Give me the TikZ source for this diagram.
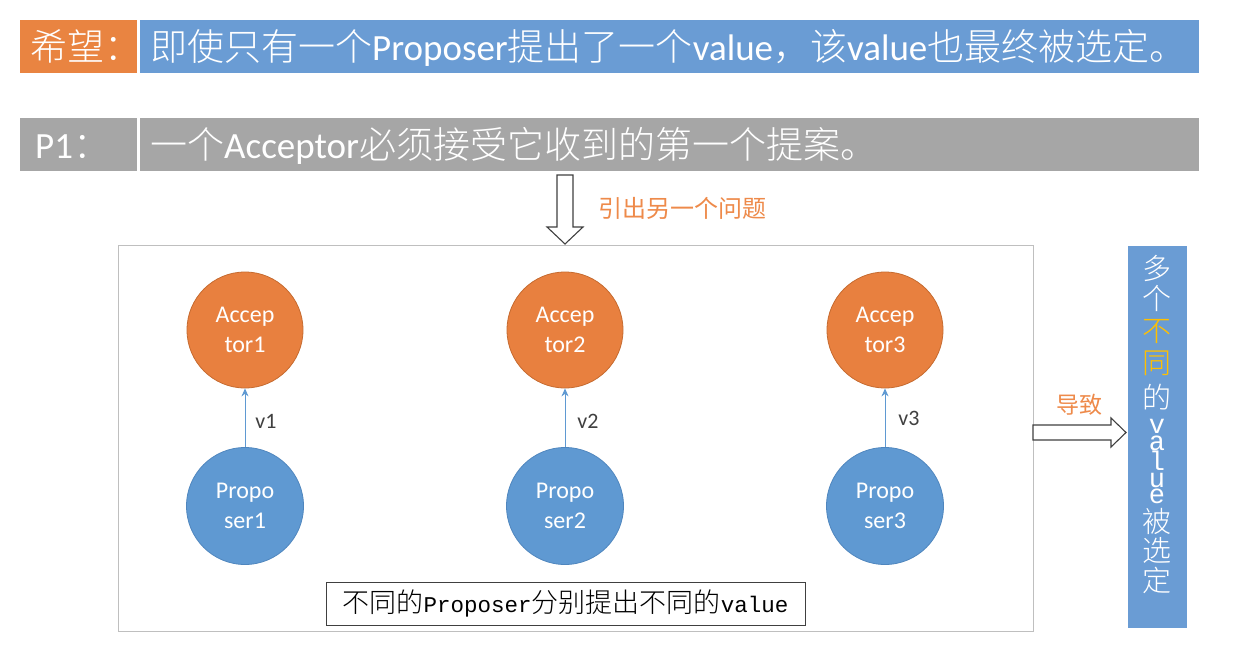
\documentclass[tikz,border=0pt]{standalone}
\usepackage{fontspec}
\setmainfont{Carlito}
\newfontfamily\cjk{Noto Sans CJK SC}[UprightFont=* Light]
\newfontfamily\cjkreg{Noto Sans CJK SC}
\newfontfamily\monofnt{Liberation Mono}
\usetikzlibrary{arrows.meta}
\definecolor{orgA}{HTML}{E98441}
\definecolor{bluA}{HTML}{6A9CD4}
\definecolor{grayA}{HTML}{A6A6A6}
\definecolor{circO}{HTML}{E8803F}
\definecolor{circOb}{HTML}{C66B30}
\definecolor{circB}{HTML}{5F99D2}
\definecolor{circBb}{HTML}{4F86BE}
\definecolor{txtO}{HTML}{EE8A4A}
\definecolor{yel}{HTML}{FFC000}
\definecolor{framec}{HTML}{BFBFBF}
\definecolor{dark}{HTML}{404040}
\newcommand\C[1]{{\cjk #1}}
\newcommand\M[1]{{\monofnt\fontsize{22.5}{27}\selectfont #1}}
% one glyph of the vertical column, lowered by #1 pt below the first baseline
\newcommand\VC[2]{\makebox[0pt]{\raisebox{-#1pt}{\cjk\fontsize{29}{30}\selectfont #2}}}
\newcommand\VL[2]{\makebox[0pt]{\raisebox{-#1pt}{\monofnt\fontsize{27}{28}\selectfont #2}}}
\tikzset{
  bannerbox/.style={minimum height=53pt, inner sep=0, anchor=north west},
  bannertext/.style={anchor=base west, inner sep=0, text=white, font=\fontsize{37}{40}\selectfont},
  accnode/.style={circle, fill=circO, draw=circOb, line width=0.8pt, minimum size=116pt, inner sep=0, text=white, align=center, font=\fontsize{24}{30}\selectfont},
  propnode/.style={circle, fill=circB, draw=circBb, line width=0.8pt, minimum size=117pt, inner sep=0, text=white, align=center, font=\fontsize{24}{30}\selectfont},
  sendarrow/.style={draw=circB, line width=1pt, -{Stealth[length=8pt,width=7pt]}},
  vlabel/.style={text=dark, font=\fontsize{22}{24}\selectfont, inner sep=0},
  hollow/.style={draw=dark, line width=1.1pt, fill=white, line join=miter},
  orangetext/.style={text=txtO, inner sep=0, anchor=west, font=\cjkreg\fontsize{24}{26}\selectfont},
}
\begin{document}
\begin{tikzpicture}[x=1pt,y=-1pt]
\useasboundingbox (0,0) rectangle (1246,668);
\fill[white] (0,0) rectangle (1246,668);

% banners
\node[bannerbox, fill=orgA, minimum width=117pt] (hopebox) at (20,20) {};
\node[bannerbox, fill=bluA, minimum width=1059pt] (hopemain) at (140,20) {};
\node[bannertext] (hopelabel) at (30,61) {\C{希望：}};
\node[bannertext] (hopetext) at (150,61) {\C{即使只有一个}Proposer\C{提出了一个}value\C{，该}value\C{也最终被选定。}};

\node[bannerbox, fill=grayA, minimum width=117pt] (p1box) at (20,118) {};
\node[bannerbox, fill=grayA, minimum width=1059pt] (p1main) at (140,118) {};
\node[bannertext] (p1label) at (35,159) {P1\C{：}};
\node[bannertext] (p1text) at (150,159) {\C{一个}Acceptor\C{必须接受它收到的第一个提案。}};

% down hollow arrow
\draw[hollow] (557,175) -- (573,175) -- (573,227) -- (583,227) -- (565,244) -- (547,227) -- (557,227) -- cycle;
\node[orangetext] (leadlabel) at (598,208) {引出另一个问题};

% big frame
\node[draw=framec, line width=1pt, minimum width=915pt, minimum height=386pt, inner sep=0, anchor=north west] (bigbox) at (118,245) {};

% circles
\node[accnode] (a1) at (245,330) {Accep\\tor1};
\node[accnode] (a2) at (565,330) {Accep\\tor2};
\node[accnode] (a3) at (885,330) {Accep\\tor3};
\node[propnode] (p1) at (245,506) {Propo\\ser1};
\node[propnode] (p2) at (565,506) {Propo\\ser2};
\node[propnode] (p3) at (885,506) {Propo\\ser3};

\draw[sendarrow] (p1) -- (a1);
\draw[sendarrow] (p2) -- (a2);
\draw[sendarrow] (p3) -- (a3);
\node[vlabel] (v1) at (266,421) {v1};
\node[vlabel] (v2) at (588,421) {v2};
\node[vlabel] (v3) at (909,418) {v3};

% bottom caption
\node[draw=dark, line width=1pt, minimum width=479pt, minimum height=43pt, inner sep=0, text=black, font=\cjk\fontsize{27}{30}\selectfont] (caption) at (565.5,603.5) {不同的\M{Proposer}分别提出不同的\M{value}};

% right hollow arrow
\draw[hollow] (1033,425) -- (1111,425) -- (1111,418) -- (1126,432.5) -- (1111,447) -- (1111,440) -- (1033,440) -- cycle;
\node[orangetext, font=\cjkreg\fontsize{23}{25}\selectfont] (causelabel) at (1056,405) {导致};

% right vertical box
\node[fill=bluA, minimum width=59pt, minimum height=382pt, inner sep=0, anchor=north west] (resultbox) at (1128,246) {};
\node[inner sep=0, anchor=base, text=white] (resulttext) at (1157,279) {%
\VC{0}{多}%
\VC{30}{个}%
\VC{62}{\textcolor{yel}{不}}%
\VC{94}{\textcolor{yel}{同}}%
\VC{129}{的}%
\VL{154}{v}%
\VL{171}{a}%
\VL{191}{l}%
\VL{208}{u}%
\VL{224}{e}%
\VC{253}{被}%
\VC{282}{选}%
\VC{312}{定}%
};
\end{tikzpicture}
\end{document}
